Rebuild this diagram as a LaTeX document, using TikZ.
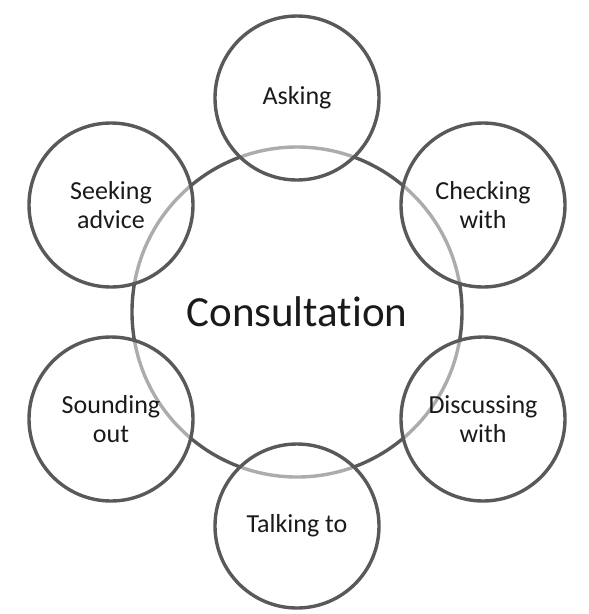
\documentclass[tikz,border=0pt]{standalone}
\usepackage{fontspec}
\setmainfont{Carlito}[Ligatures={NoCommon}]
\definecolor{ring}{HTML}{595959}
\definecolor{txt}{HTML}{1A1A1A}
\begin{document}
\begin{tikzpicture}[x=1pt,y=-1pt,
  hub/.style={circle, draw=ring, line width=3.4pt, minimum size=330pt, inner sep=0pt,
    text=txt, font=\fontsize{43}{50}\selectfont},
  petal/.style={circle, draw=ring, line width=3.4pt, minimum size=164pt, inner sep=0pt,
    fill=white, fill opacity=0.5, text opacity=1, text=txt, align=center,
    font=\fontsize{26}{29}\selectfont}]
\useasboundingbox (0,0) rectangle (589,614);
\node[hub] (c) at (297,312) {Consultation};
\node[petal] (ask) at (297,98) {Asking};
\node[petal] (chk) at (483,205) {Checking\\with};
\node[petal] (dis) at (483,419) {Discussing\\with};
\node[petal] (tlk) at (297,526) {Talking to};
\node[petal] (snd) at (111,419) {Sounding\\out};
\node[petal] (sek) at (111,205) {Seeking\\advice};
\end{tikzpicture}
\end{document}
